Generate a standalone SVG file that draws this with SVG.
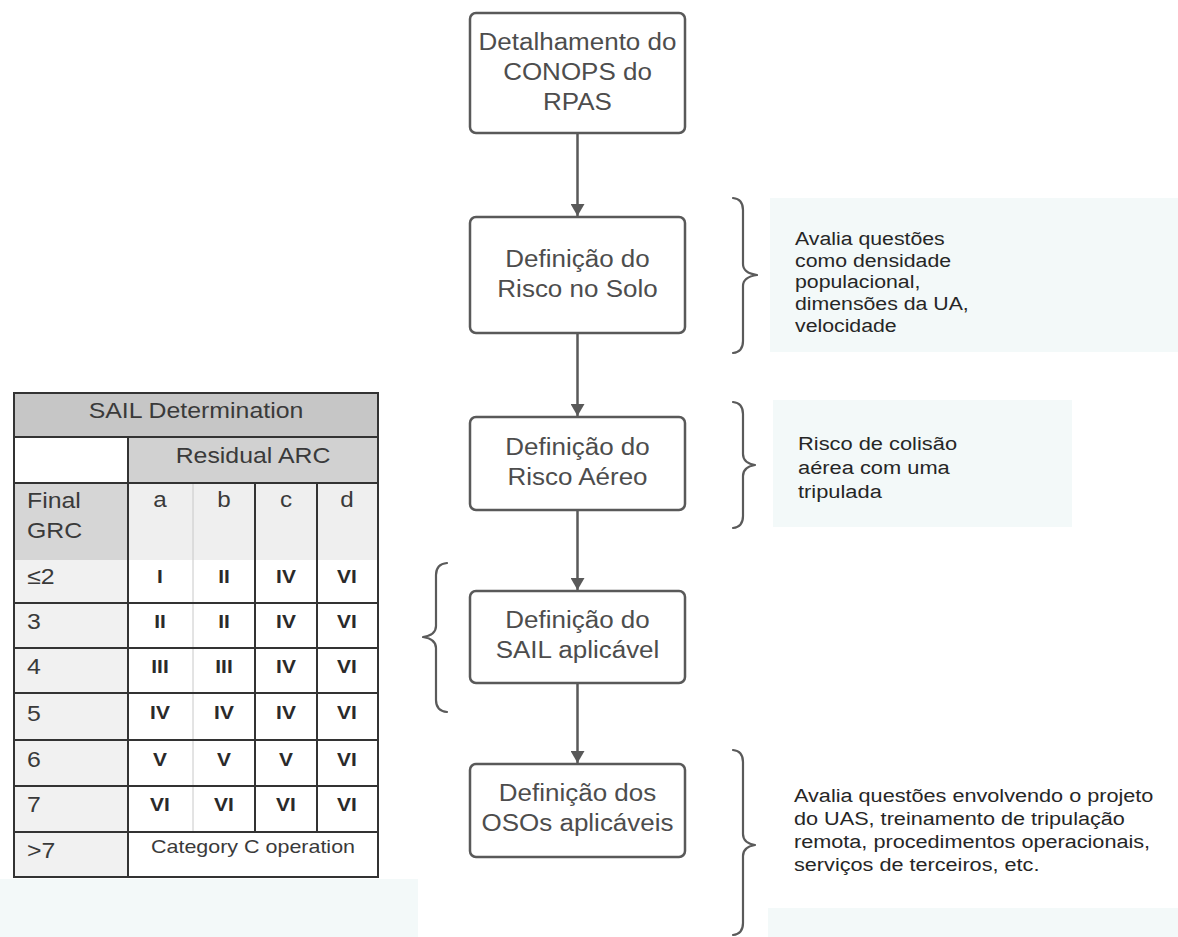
<svg xmlns="http://www.w3.org/2000/svg" width="1178" height="937" viewBox="0 0 1178 937">
<style>
.bg{fill:#f3f9f9}
.node rect{fill:#ffffff;stroke:#595959;stroke-width:2.5}
.nt{font-family:"Liberation Sans",Arial,sans-serif;font-size:23px;fill:#4d4d4d;text-anchor:middle}
.ann{font-family:"Liberation Sans",Arial,sans-serif;font-size:19px;fill:#262626}
.brace{fill:none;stroke:#5a5a5a;stroke-width:2.2;stroke-linecap:round;stroke-linejoin:round}
.conn line{stroke:#595959;stroke-width:2.5}
.tt{font-family:"Liberation Sans",Arial,sans-serif;font-size:22px;fill:#3a3a3a}
.tc{font-family:"Liberation Sans",Arial,sans-serif;font-size:19px;fill:#2a2a2a;font-weight:bold;text-anchor:middle}
.grid{stroke:#333333;stroke-width:2;fill:none}
</style>
<defs>
<marker id="ah" viewBox="0 0 12 14" refX="12" refY="7" markerWidth="12" markerHeight="14" markerUnits="userSpaceOnUse" orient="auto">
<path d="M0,0 L12,7 L0,14 Z" fill="#595959"/>
</marker>
</defs>
<rect width="1178" height="937" fill="#ffffff"/>
<!-- light background areas -->
<rect class="bg" x="0" y="879" width="418" height="58"/>
<rect class="bg" x="770" y="198" width="408" height="154"/>
<rect class="bg" x="773" y="400" width="299" height="127"/>
<rect class="bg" x="768" y="908" width="410" height="29"/>

<!-- SAIL table -->
<g id="sail-table">
<rect x="14" y="393" width="364" height="44" fill="#c6c6c6"/>
<rect x="14" y="437" width="114" height="46" fill="#ffffff"/>
<rect x="128" y="437" width="250" height="46" fill="#d1d1d1"/>
<rect x="14" y="483" width="114" height="77" fill="#d6d6d6"/>
<rect x="128" y="483" width="250" height="77" fill="#efefef"/>
<rect x="14" y="560" width="114" height="317" fill="#f1f1f1"/>
<rect x="128" y="560" width="250" height="317" fill="#ffffff"/>
<line x1="193" y1="483" x2="193" y2="832" stroke="#c8c8c8" stroke-width="1"/>
<g class="grid">
<rect x="14" y="393" width="364" height="484"/>
<line x1="14" y1="437" x2="378" y2="437"/>
<line x1="14" y1="483" x2="378" y2="483"/>
<line x1="128" y1="437" x2="128" y2="877"/>
<line x1="255" y1="483" x2="255" y2="832"/>
<line x1="317" y1="483" x2="317" y2="832"/>
<line x1="14" y1="603" x2="378" y2="603"/>
<line x1="14" y1="648" x2="378" y2="648"/>
<line x1="14" y1="693" x2="378" y2="693"/>
<line x1="14" y1="740" x2="378" y2="740"/>
<line x1="14" y1="786" x2="378" y2="786"/>
<line x1="14" y1="832" x2="378" y2="832"/>
</g>
<g transform="translate(196,0) scale(1.13,1)"><text class="tt" x="0" y="418" text-anchor="middle">SAIL Determination</text></g>
<g transform="translate(253,0) scale(1.13,1)"><text class="tt" x="0" y="463" text-anchor="middle">Residual ARC</text></g>
<g transform="translate(27,0) scale(1.13,1)">
<text class="tt" x="0" y="508">Final</text>
<text class="tt" x="0" y="538">GRC</text>
<text class="tt" x="0" y="584">≤2</text>
<text class="tt" x="0" y="629">3</text>
<text class="tt" x="0" y="674">4</text>
<text class="tt" x="0" y="721">5</text>
<text class="tt" x="0" y="767">6</text>
<text class="tt" x="0" y="812">7</text>
<text class="tt" x="0" y="858">&gt;7</text>
</g>
<g transform="translate(160,0) scale(1.1,1)">
<text class="tt" x="0" y="507" text-anchor="middle">a</text>
<text class="tc" x="0" y="583">I</text><text class="tc" x="0" y="628">II</text><text class="tc" x="0" y="673">III</text><text class="tc" x="0" y="719">IV</text><text class="tc" x="0" y="766">V</text><text class="tc" x="0" y="811">VI</text>
</g>
<g transform="translate(224,0) scale(1.1,1)">
<text class="tt" x="0" y="507" text-anchor="middle">b</text>
<text class="tc" x="0" y="583">II</text><text class="tc" x="0" y="628">II</text><text class="tc" x="0" y="673">III</text><text class="tc" x="0" y="719">IV</text><text class="tc" x="0" y="766">V</text><text class="tc" x="0" y="811">VI</text>
</g>
<g transform="translate(286,0) scale(1.1,1)">
<text class="tt" x="0" y="507" text-anchor="middle">c</text>
<text class="tc" x="0" y="583">IV</text><text class="tc" x="0" y="628">IV</text><text class="tc" x="0" y="673">IV</text><text class="tc" x="0" y="719">IV</text><text class="tc" x="0" y="766">V</text><text class="tc" x="0" y="811">VI</text>
</g>
<g transform="translate(347,0) scale(1.1,1)">
<text class="tt" x="0" y="507" text-anchor="middle">d</text>
<text class="tc" x="0" y="583">VI</text><text class="tc" x="0" y="628">VI</text><text class="tc" x="0" y="673">VI</text><text class="tc" x="0" y="719">VI</text><text class="tc" x="0" y="766">VI</text><text class="tc" x="0" y="811">VI</text>
</g>
<g transform="translate(253,0) scale(1.13,1)"><text class="tt" x="0" y="853" text-anchor="middle" style="font-size:19px">Category C operation</text></g>
</g>

<!-- connectors -->
<g id="connectors" class="conn">
<line x1="577.5" y1="133" x2="577.5" y2="216" marker-end="url(#ah)"/>
<line x1="577.5" y1="333" x2="577.5" y2="416" marker-end="url(#ah)"/>
<line x1="577.5" y1="510" x2="577.5" y2="590" marker-end="url(#ah)"/>
<line x1="577.5" y1="683" x2="577.5" y2="763" marker-end="url(#ah)"/>
</g>

<!-- nodes -->
<g id="node-conops" class="node">
<rect x="470" y="13" width="215" height="120" rx="6"/>
<g transform="translate(577.5,0) scale(1.13,1)">
<text class="nt" x="0" y="50">Detalhamento do</text>
<text class="nt" x="0" y="80">CONOPS do</text>
<text class="nt" x="0" y="110">RPAS</text>
</g>
</g>
<g id="node-solo" class="node">
<rect x="470" y="217" width="215" height="116" rx="6"/>
<g transform="translate(577.5,0) scale(1.13,1)">
<text class="nt" x="0" y="267">Definição do</text>
<text class="nt" x="0" y="297">Risco no Solo</text>
</g>
</g>
<g id="node-aereo" class="node">
<rect x="470" y="417" width="215" height="93" rx="6"/>
<g transform="translate(577.5,0) scale(1.13,1)">
<text class="nt" x="0" y="455">Definição do</text>
<text class="nt" x="0" y="485">Risco Aéreo</text>
</g>
</g>
<g id="node-sail" class="node">
<rect x="470" y="591" width="215" height="92" rx="6"/>
<g transform="translate(577.5,0) scale(1.13,1)">
<text class="nt" x="0" y="628">Definição do</text>
<text class="nt" x="0" y="658">SAIL aplicável</text>
</g>
</g>
<g id="node-osos" class="node">
<rect x="470" y="764" width="215" height="93" rx="6"/>
<g transform="translate(577.5,0) scale(1.13,1)">
<text class="nt" x="0" y="801">Definição dos</text>
<text class="nt" x="0" y="831">OSOs aplicáveis</text>
</g>
</g>

<!-- braces -->
<g id="braces">
<path class="brace" d="M733,198 Q743,199 743,210 L743,264 Q743,273 757,275 Q743,277 743,286 L743,341 Q743,352 733,353"/>
<path class="brace" d="M733,402 Q743,403 743,414 L743,454 Q743,463 755,465 Q743,467 743,476 L743,516 Q743,527 733,528"/>
<path class="brace" d="M733,750 Q743,751 743,762 L743,834 Q743,843 755,845 Q743,847 743,856 L743,923 Q743,934 733,935"/>
<path class="brace" d="M447,563 Q436,564 436,575 L436,626 Q436,635 423,637 Q436,639 436,648 L436,700 Q436,711 447,712"/>
</g>

<!-- annotations -->
<g id="ann-solo" transform="translate(795,0) scale(1.12,1)">
<text class="ann" x="0" y="245">Avalia questões</text>
<text class="ann" x="0" y="267">como densidade</text>
<text class="ann" x="0" y="288">populacional,</text>
<text class="ann" x="0" y="310">dimensões da UA,</text>
<text class="ann" x="0" y="332">velocidade</text>
</g>
<g id="ann-aereo" transform="translate(798,0) scale(1.15,1)">
<text class="ann" x="0" y="450">Risco de colisão</text>
<text class="ann" x="0" y="474">aérea com uma</text>
<text class="ann" x="0" y="498">tripulada</text>
</g>
<g id="ann-osos" transform="translate(794,0) scale(1.14,1)">
<text class="ann" x="0" y="802">Avalia questões envolvendo o projeto</text>
<text class="ann" x="0" y="825">do UAS, treinamento de tripulação</text>
<text class="ann" x="0" y="848">remota, procedimentos operacionais,</text>
<text class="ann" x="0" y="871">serviços de terceiros, etc.</text>
</g>
</svg>
